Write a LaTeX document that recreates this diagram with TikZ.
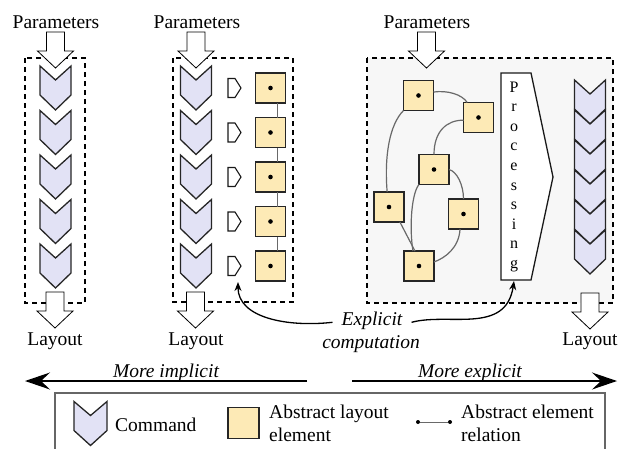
\documentclass[tikz,border=0pt]{standalone}
\usepackage{fontspec}
\setmainfont{Liberation Serif}
\newfontfamily\figserif{Liberation Serif}
\usetikzlibrary{arrows.meta,calc}
\definecolor{chevfill}{RGB}{226,226,245}
\definecolor{elemfill}{RGB}{253,234,182}
\definecolor{panelbg}{RGB}{247,247,247}
\definecolor{linkgrey}{RGB}{105,105,105}
\begin{document}
\begin{tikzpicture}[x=1pt,y=-1pt,
  font=\figserif\fontsize{19.5}{23}\selectfont,
  chevstyle/.style={draw=black!85,fill=chevfill,line width=1.3pt},
  blockstyle/.style={draw=black,fill=white,line width=0.8pt},
  pointerstyle/.style={draw=black!90,fill=white,line width=1.1pt},
  procstyle/.style={draw=black!90,fill=white,line width=1.3pt},
  dashbox/.style={draw=black,dash pattern=on 5pt off 4pt,line width=1.3pt},
  elem/.style={draw=black!85,fill=elemfill,line width=1.5pt,minimum size=30pt,inner sep=0pt,outer sep=0pt,
    path picture={\fill[black] (path picture bounding box.center) circle (2.3pt);}},
  elemplain/.style={draw=black!85,fill=elemfill,line width=1.5pt,minimum size=31pt,inner sep=0pt},
  link/.style={draw=linkgrey,line width=1.2pt},
  lbl/.style={anchor=base,inner sep=0pt},
  lblw/.style={anchor=base west,inner sep=0pt},
  expl/.style={anchor=base,inner sep=0pt,inner xsep=9pt,font=\figserif\fontsize{19.5}{23}\selectfont\itshape},
  curvarrow/.style={draw=black,line width=1.3pt,-{Stealth[length=9pt,width=7pt]}},
  bigarrow/.style={draw=black,line width=1.5pt,-{Stealth[length=25pt,width=17pt,inset=9pt]}},
  reldot/.style={circle,fill=black,inner sep=0pt,minimum size=4pt},
  chevron/.pic={\path[chevstyle] (-15.5,-22) -- (0,-8) -- (15.5,-22) -- (15.5,7) -- (0,22) -- (-15.5,7) -- cycle;},
  blockarr/.pic={\path[blockstyle] (-9,0) -- (9,0) -- (9,19) -- (18,19) -- (0,36) -- (-18,19) -- (-9,19) -- cycle;},
  pointer/.pic={\path[pointerstyle] (-6.5,-9.5) -- (0.5,-9.5) -- (6.5,0) -- (0.5,9.5) -- (-6.5,9.5) -- cycle;}
]
\useasboundingbox (0,0) rectangle (618,448);
\clip (0,0) rectangle (618,448);

% ---------- Panel 1 ----------
\draw[dashbox] (25,58) rectangle (85,303);
\foreach \k in {0,...,4} \pic at (55.5,88+44.5*\k) {chevron};
\pic at (55.5,32) {blockarr};
\pic at (55,292) {blockarr};
\node[lbl] (par1) at (56,28) {Parameters};
\node[lbl] (lay1) at (55,345) {Layout};

% ---------- Panel 2 ----------
\draw[dashbox] (173,58) rectangle (293,302);
\foreach \k in {0,...,4} {
  \pic at (196,88+44.5*\k) {chevron};
  \pic at (234.5,88+44.5*\k) {pointer};
  \node[elem] (s\k) at (270.5,88+44.5*\k) {};
}
\foreach \a/\b in {0/1,1/2,2/3,3/4}
  \draw[link] ([xshift=7pt]s\a.south) -- ([xshift=7pt]s\b.north);
\pic at (196,32) {blockarr};
\pic at (195.5,292) {blockarr};
\node[lbl] (par2) at (197,28) {Parameters};
\node[lbl] (lay2) at (196,345) {Layout};
\coordinate (dtip) at (238,282);

% ---------- Panel 3 ----------
\draw[dashbox,fill=panelbg] (367,58) rectangle (613,303);
\node[elem] (n1) at (418.5,95.5) {};
\node[elem] (n2) at (478.5,117.5) {};
\node[elem] (n3) at (434,169.5) {};
\node[elem] (n4) at (389,207) {};
\node[elem] (n5) at (463.5,214) {};
\node[elem] (n6) at (419,266) {};
\draw[link] (n1.13) .. controls +(14,-2) and +(-5,-8) .. (n2.127);
\draw[link] (n1.south west) .. controls +(-14,14) and +(-3,-36) .. (n4.97);
\draw[link] (n2.190) .. controls +(-17,0) and +(0,-23) .. (n3.north);
\draw[link] (n3.east) .. controls +(8,2) and +(0,-14) .. (n5.north);
\draw[link] (n3.south west) .. controls +(-7,8) and +(-4,-26) .. (n6.112);
\draw[link] (n4.-54) -- (n6.105);
\draw[link] (n5.-103) .. controls +(-1,19) and +(11,-4) .. (n6.15);

\draw[procstyle] (501,73) -- (531,73) -- (553,177) -- (531,280) -- (501,280) -- cycle;
\foreach \l [count=\i from 0] in {P,r,o,c,e,s,s,i,n,g}
  \node[lbl,font=\figserif\fontsize{16}{19}\selectfont] (p\i) at (514,92+19.6*\i) {\l};
\coordinate (pbot) at (514,281);

\foreach \k in {0,...,5} \pic at (590,102+30*\k) {chevron};
\pic at (426.5,32) {blockarr};
\pic at (590,293) {blockarr};
\node[lbl] (par3) at (427,28) {Parameters};
\node[lbl] (lay3) at (590,345) {Layout};

% ---------- Explicit computation ----------
\node[expl] (ex1) at (372,325) {Explicit};
\node[expl] (ex2) at (371,348) {computation};
\draw[curvarrow] ($(ex1.west)+(0,2)$) .. controls +(-45,5) and +(0,36) .. (dtip);
\draw[curvarrow] ($(ex1.east)+(0,2)$) .. controls +(37,-10) and +(-8,54) .. (pbot);

% ---------- Direction arrows ----------
\coordinate (li0) at (307,381);
\coordinate (li1) at (25,381);
\coordinate (le0) at (352,381);
\coordinate (le1) at (617,381);
\draw[bigarrow] (li0) -- (li1);
\draw[bigarrow] (le0) -- (le1);
\node[expl,inner xsep=0pt] (mimp) at (166,377) {More implicit};
\node[expl,inner xsep=0pt] (mexp) at (470,377) {More explicit};

% ---------- Legend ----------
\draw[draw=black!60,line width=1.1pt] (55,393) rectangle (605,470);
\pic[xscale=1.065] at (90.5,423.5) {chevron};
\node[lblw] (lcmd) at (115,431) {Command};
\node[elemplain] (lsq) at (243.5,423) {};
\node[lblw] (lab1) at (269,418) {Abstract layout};
\node[lblw] (lab2) at (269,441) {element};
\node[reldot] (r1) at (418,422) {};
\node[reldot] (r2) at (450,422) {};
\draw[link,line width=1pt] (r1) -- (r2);
\node[lblw] (lrel1) at (461,418) {Abstract element};
\node[lblw] (lrel2) at (461,441) {relation};
\end{tikzpicture}
\end{document}
